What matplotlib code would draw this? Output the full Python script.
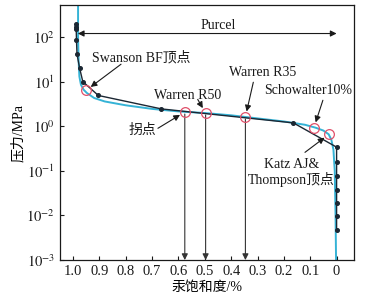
import numpy as np
import matplotlib
matplotlib.use("Agg")
import matplotlib.pyplot as plt

plt.rcParams['font.family'] = ['Liberation Serif', 'Noto Sans CJK SC']
plt.rcParams['mathtext.fontset'] = 'stix'
plt.rcParams['font.size'] = 10

# measured (black) curve
meas_x = [0.987, 0.987, 0.988, 0.987, 0.985, 0.975, 0.963, 0.904, 0.665, 0.164,
          0.0, 0.0, 0.0, 0.0, 0.0, 0.0, 0.0]
meas_y = [200, 170, 150, 85, 41, 20, 10, 4.9, 2.45, 1.19,
          0.34, 0.158, 0.076, 0.038, 0.019, 0.0096, 0.0048]

# fitted (cyan) curve
fit_x = [0.981, 0.981, 0.979, 0.976, 0.97, 0.96, 0.948, 0.92, 0.88, 0.8, 0.7,
         0.6, 0.5, 0.4, 0.3, 0.2, 0.12, 0.08, 0.05, 0.03, 0.02, 0.012,
         0.007, 0.004, 0.002]
fit_y = [600, 100, 30, 13, 8.5, 6.6, 5.6, 4.3, 3.6, 2.95, 2.45,
         2.15, 1.98, 1.76, 1.5, 1.28, 1.08, 0.93, 0.8, 0.66, 0.5, 0.3,
         0.1, 0.01, 0.001]

# characteristic points
pt_names = ["Swanson BF顶点", "拐点", "Warren R50", "Warren R35",
            "Schowalter10%", "Katz AJ&\nThompson顶点"]
pt_x = [0.95, 0.576, 0.497, 0.346, 0.086, 0.029]
pt_y = [6.4, 2.09, 1.99, 1.62, 0.93, 0.66]
lbl_x = [0.93, 0.79, 0.693, 0.41, 0.274, 0.171]
lbl_y = [35, 0.81, 4.95, 16.3, 6.4, 0.091]
lbl_ha = ['left', 'left', 'left', 'left', 'left', 'center']
tail_x = [0.818, 0.678, 0.527, 0.316, 0.052, 0.12]
tail_y = [24.6, 0.90, 4.0, 9.7, 3.83, 0.26]

fig = plt.figure(figsize=(3.79, 3.01), dpi=100)
ax = fig.add_axes([0.158, 0.136, 0.776, 0.847])

ax.plot(fit_x, fit_y, color='#35b3d6', lw=1.4, zorder=2)
ax.plot(meas_x, meas_y, color='#1b2733', lw=1.0, marker='o', ms=2.6, zorder=3)
ax.plot(pt_x, pt_y, ls='none', marker='o', ms=7, mfc='none', mec='#e0506a',
        mew=0.9, zorder=4)

arrow = dict(arrowstyle='-|>', color='#1a1a1a', lw=0.8, mutation_scale=9,
             shrinkA=0, shrinkB=4)
for name, px, py, lx, ly, ha, tx, ty in zip(pt_names, pt_x, pt_y, lbl_x,
                                            lbl_y, lbl_ha, tail_x, tail_y):
    ax.annotate('', xy=(px, py), xytext=(tx, ty), arrowprops=arrow)
    ax.text(lx, ly, name, ha=ha, va='center', fontsize=10,
            linespacing=1.05, color='#1a1a1a', multialignment='center')

# vertical drop lines from 拐点, R50, R35
for i in [1, 2, 3]:
    ax.annotate('', xy=(pt_x[i], 1e-3), xytext=(pt_x[i], pt_y[i] * 0.9),
                arrowprops=dict(arrowstyle='-|>', color='#333333', lw=0.8,
                                mutation_scale=9, shrinkA=0, shrinkB=0))

# Purcel range
ax.annotate('', xy=(0.0, 120), xytext=(0.982, 120),
            arrowprops=dict(arrowstyle='<|-|>', color='#1a1a1a', lw=0.8,
                            mutation_scale=9, shrinkA=0, shrinkB=0))
ax.text(0.448, 183, 'Purcel', ha='center', va='center', fontsize=10,
        color='#1a1a1a')

ax.set_yscale('log')
ax.set_ylim(1e-3, 5.2e2)
ax.set_xlim(1.05, -0.066)
ax.set_xticks([1.0, 0.9, 0.8, 0.7, 0.6, 0.5, 0.4, 0.3, 0.2, 0.1, 0])
ax.set_xticklabels(['1.0', '0.9', '0.8', '0.7', '0.6', '0.5', '0.4', '0.3',
                    '0.2', '0.1', '0'])
ax.set_yticks([1e-3, 1e-2, 1e-1, 1, 10, 100])
ax.set_yticklabels([r'$10^{-3}$', r'$10^{-2}$', r'$10^{-1}$', r'$10^{0}$',
                    r'$10^{1}$', r'$10^{2}$'])
ax.minorticks_off()
ax.tick_params(direction='in', length=3, width=0.8, labelsize=10.5,
               colors='#1a1a1a')
for s in ax.spines.values():
    s.set_linewidth(0.9)
    s.set_color('#1a1a1a')

ax.set_xlabel('汞饱和度/%', fontsize=10, labelpad=2)
ax.set_ylabel('压力/MPa', fontsize=10, labelpad=1)

fig.savefig('out.png', dpi=100)
